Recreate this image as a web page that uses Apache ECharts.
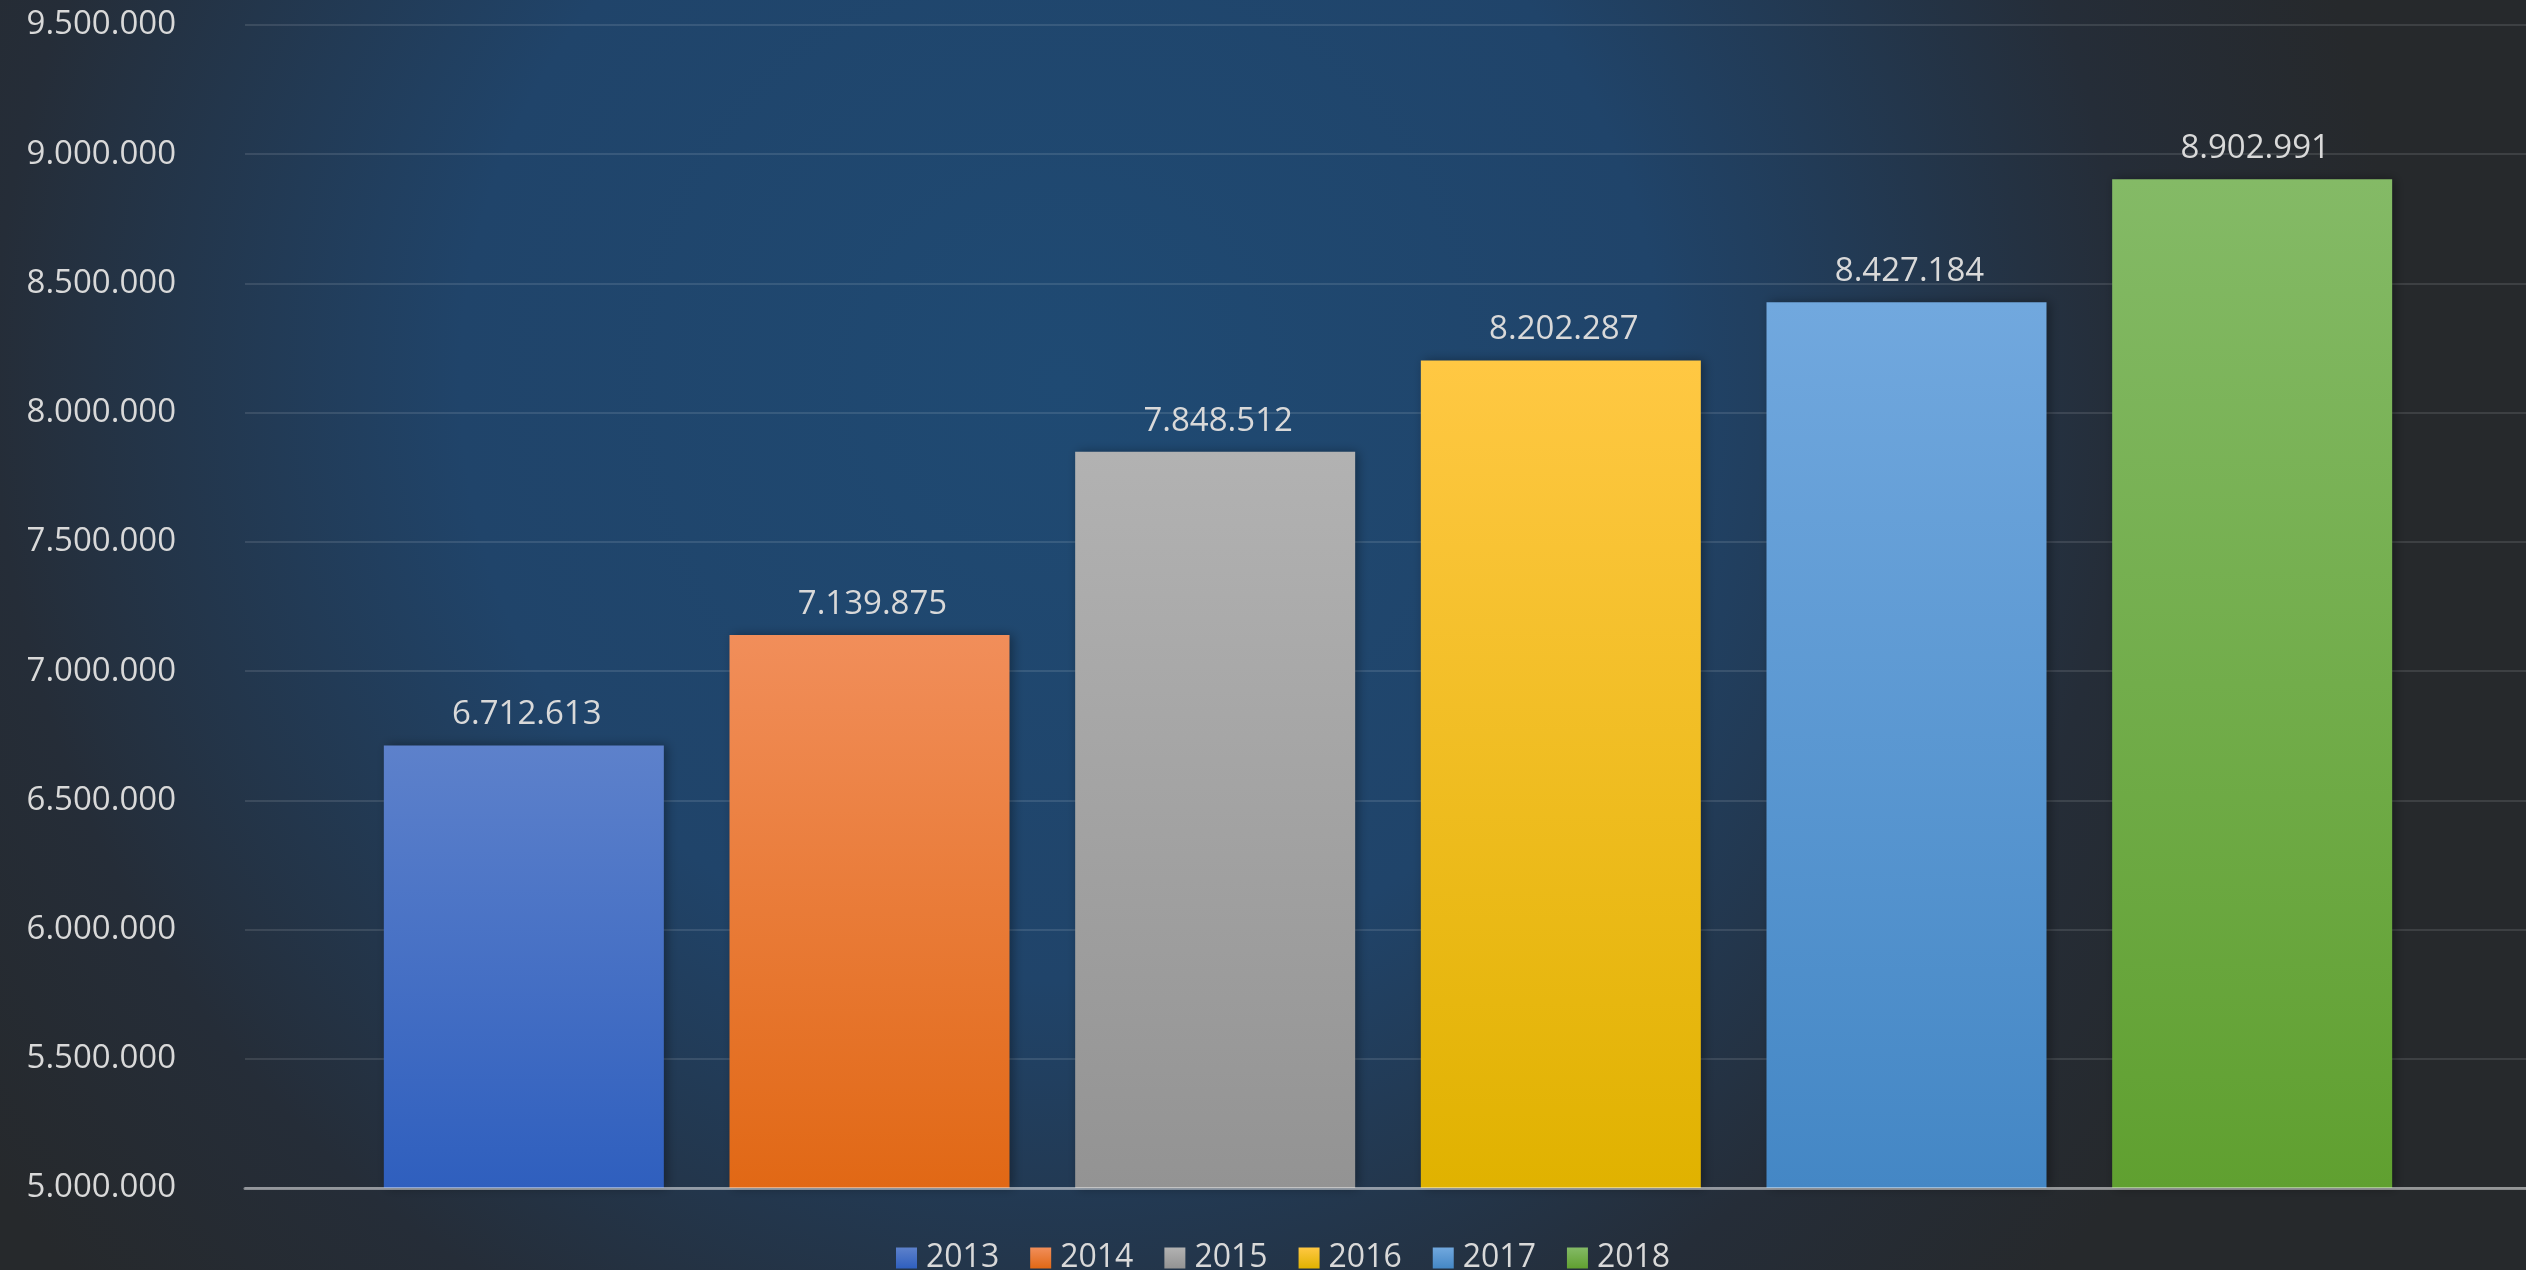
<!DOCTYPE html>
<html>
<head>
<meta charset="utf-8">
<script src="https://cdn.jsdelivr.net/npm/echarts@6/dist/echarts.min.js"></script>
<style>
html,body{margin:0;padding:0;width:2526px;height:1270px;overflow:hidden;}
#chart{width:2526px;height:1270px;}
</style>
</head>
<body>
<div id="chart"></div>
<script>
// ---- data ----
var years = ['2013', '2014', '2015', '2016', '2017', '2018'];
var values = [6712613, 7139875, 7848512, 8202287, 8427184, 8902991];
var yMin = 5000000, yMax = 9500000, yStep = 500000;

// ---- styles ----
var topColors = ['#5d81cb', '#f18e5a', '#b2b2b2', '#ffc843', '#71a8de', '#84ba66'];
var bottomColors = ['#2f5fbe', '#e16815', '#939393', '#e0b200', '#4487c5', '#60a030'];

function fmt(v) {
  return String(v).replace(/\B(?=(\d{3})+(?!\d))/g, '.');
}

var FONT = '"Open Sans", "Noto Sans", sans-serif';
var series = years.map(function (y, i) {
  var d = years.map(function (_, j) { return j === i ? values[j] : null; });
  return {
    name: y,
    type: 'bar',
    xAxisIndex: 1,
    yAxisIndex: 1,
    barWidth: 280,
    barGap: '-100%',
    data: d,
    itemStyle: {
      color: {
        type: 'linear', x: 0, y: 0, x2: 0, y2: 1,
        colorStops: [{ offset: 0, color: topColors[i] }, { offset: 1, color: bottomColors[i] }]
      },
      shadowBlur: 10,
      shadowColor: 'rgba(0,0,0,0.35)',
      shadowOffsetX: 3,
      shadowOffsetY: 0
    },
    label: {
      show: true,
      position: 'top',
      distance: 14,
      offset: [3, 0],
      color: '#d9d9d9',
      fontFamily: FONT,
      fontSize: 33,
      formatter: function (p) { return fmt(p.value); }
    }
  };
});

var chart = echarts.init(document.getElementById('chart'), null, { renderer: 'canvas' });
chart.setOption({
  animation: false,
  backgroundColor: {
    type: 'radial', x: 0.42, y: 0.3, r: 1.05,
    colorStops: [
      { offset: 0, color: '#1f4a73' },
      { offset: 0.45, color: '#20446a' },
      { offset: 0.8, color: '#252d38' },
      { offset: 1, color: '#26292c' }
    ]
  },
  legend: {
    data: years,
    left: 891,
    top: 1237,
    itemWidth: 21,
    itemHeight: 21,
    itemGap: 31,
    icon: 'rect',
    textStyle: { color: '#d9d9d9', fontSize: 32, fontFamily: FONT, padding: [0, 0, 0, 4] }
  },
  grid: [
    { left: 245, right: 0, top: 25, bottom: 82 },
    { left: 351, right: 101, top: 25, bottom: 82 }
  ],
  xAxis: [
    {
      gridIndex: 0, type: 'value', min: 0, max: 1, z: 10,
      axisLine: { show: true, onZero: false, lineStyle: { color: 'rgba(255,255,255,0.45)', width: 3 } },
      axisTick: { show: false }, axisLabel: { show: false }, splitLine: { show: false }
    },
    {
      gridIndex: 1, type: 'category', data: years, show: false
    }
  ],
  yAxis: [
    {
      gridIndex: 0, type: 'value', min: yMin, max: yMax, interval: yStep,
      axisLine: { show: false }, axisTick: { show: false },
      axisLabel: {
        color: '#d9d9d9', fontSize: 33, fontFamily: FONT, margin: 69,
        formatter: function (v) { return fmt(v); }
      },
      splitLine: { lineStyle: { color: 'rgba(255,255,255,0.11)', width: 2 } }
    },
    {
      gridIndex: 1, type: 'value', min: yMin, max: yMax, interval: yStep, show: false
    }
  ],
  series: series
});
</script>
</body>
</html>
